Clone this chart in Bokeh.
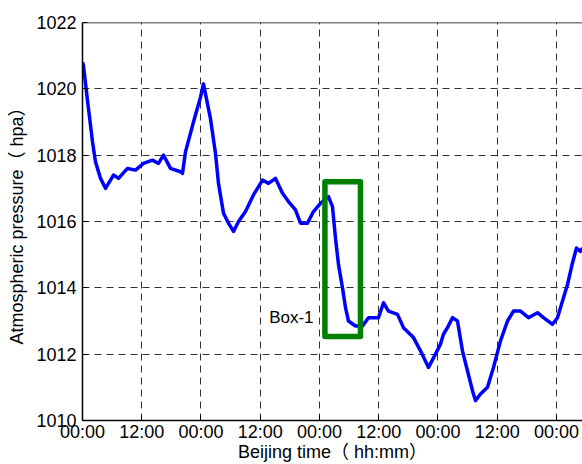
from bokeh.plotting import figure
from bokeh.models import FixedTicker, Span, Label
from bokeh.embed import file_html
from bokeh.resources import INLINE

# time in hours since start, pressure in hPa
hours = [0.0, 0.2, 1.01, 2.03, 2.63, 3.65, 4.66, 6.28, 7.29, 9.11, 10.73, 12.35,
         14.18, 15.39, 16.41, 17.82, 19.85, 20.25, 20.86, 22.48, 23.9, 24.5,
         25.92, 26.94, 27.54, 28.56, 29.57, 30.58, 31.6, 33.01, 34.63, 36.46,
         37.67, 39.09, 40.51, 41.72, 43.14, 44.15, 45.57, 46.78, 48.2, 48.61,
         49.82, 50.63, 51.24, 51.85, 52.66, 53.27, 53.87, 55.29, 56.71, 57.92,
         59.95, 60.96, 61.97, 63.8, 65.01, 67.04, 68.46, 70.08, 71.49, 72.5,
         73.11, 73.92, 74.94, 75.95, 76.96, 77.97, 78.99, 79.59, 80.61, 82.03,
         83.24, 84.66, 86.08, 87.29, 88.71, 90.33, 92.15, 93.37, 95.19, 96.2,
         97.22, 98.23, 99.24, 100.05, 100.86, 101.27]
pressure = [1020.8, 1020.7, 1019.65, 1018.4, 1017.8, 1017.3, 1017.0, 1017.4, 1017.3,
            1017.6, 1017.55, 1017.75, 1017.85, 1017.75, 1018.0, 1017.6, 1017.5,
            1017.45, 1018.1, 1019.0, 1019.75, 1020.15, 1019.1, 1018.05, 1017.15,
            1016.25, 1015.95, 1015.7, 1016.0, 1016.3, 1016.8, 1017.25, 1017.15,
            1017.3, 1016.85, 1016.6, 1016.35, 1015.95, 1015.95, 1016.3, 1016.55,
            1016.6, 1016.75, 1016.45, 1015.5, 1014.7, 1014.0, 1013.4, 1013.0,
            1012.85, 1012.85, 1013.1, 1013.1, 1013.55, 1013.3, 1013.2, 1012.8,
            1012.5, 1012.1, 1011.6, 1012.0, 1012.3, 1012.6, 1012.8, 1013.1,
            1013.0, 1012.1, 1011.5, 1010.9, 1010.6, 1010.8, 1011.0, 1011.6,
            1012.4, 1013.0, 1013.3, 1013.3, 1013.1, 1013.25, 1013.1, 1012.9,
            1013.1, 1013.6, 1014.1, 1014.75, 1015.2, 1015.1, 1015.2]

x_ticks = [0, 12, 24, 36, 48, 60, 72, 84, 96]
x_tick_labels = ["00:00", "12:00", "00:00", "12:00", "00:00", "12:00", "00:00", "12:00", "00:00"]
y_ticks = [1010, 1012, 1014, 1016, 1018, 1020, 1022]

box_left, box_right = 49.1, 56.3
box_bottom, box_top = 1012.53, 1017.2
box_label = "Box-1"
x_title = "Beijing time（ hh:mm）"
y_title = "Atmospheric pressure（ hpa）"

FONT = "Liberation Sans, Noto Sans CJK TC"

p = figure(width=582, height=464, x_range=(0, 101.27), y_range=(1010, 1022),
           output_backend="svg", toolbar_location=None,
           min_border_left=82, min_border_right=0, min_border_top=22, min_border_bottom=44)
p.outline_line_color = None
p.background_fill_color = "white"
p.border_fill_color = "white"

for g in (p.xgrid, p.ygrid):
    g.grid_line_color = "#333333"
    g.grid_line_dash = "7 5"
    g.grid_line_width = 1

p.xaxis.ticker = FixedTicker(ticks=x_ticks)
p.xaxis.major_label_overrides = {t: l for t, l in zip(x_ticks, x_tick_labels)}
p.yaxis.ticker = FixedTicker(ticks=y_ticks)
p.xgrid.ticker = FixedTicker(ticks=x_ticks)
p.ygrid.ticker = FixedTicker(ticks=y_ticks)

for ax in (p.xaxis, p.yaxis):
    ax.axis_line_color = "black"
    ax.axis_line_width = 1.5
    ax.major_tick_in = 5
    ax.major_tick_out = 0
    ax.major_tick_line_color = "black"
    ax.minor_tick_line_color = None
    ax.major_label_text_font = FONT
    ax.major_label_text_font_size = "18px"
    ax.major_label_text_color = "black"
    ax.axis_label_text_font = FONT
    ax.axis_label_text_font_size = "18px"
    ax.axis_label_text_font_style = "normal"
    ax.axis_label_text_color = "black"

p.xaxis.axis_label = x_title
p.yaxis.axis_label = y_title
p.xaxis.major_label_standoff = 1
p.xaxis.axis_label_standoff = -3
p.yaxis.major_label_standoff = 6
p.yaxis.axis_label_standoff = 6

# top border
p.add_layout(Span(location=1022, dimension="width", line_color="black", line_width=1.5))

p.line(hours, pressure, line_color="#0000FF", line_width=3.5, line_join="round")

p.quad(left=[box_left], right=[box_right], bottom=[box_bottom], top=[box_top],
       fill_color=None, line_color="#008000", line_width=5.5, line_join="round")

p.add_layout(Label(x=box_left - 2.3, y=1013.1, text=box_label, text_align="right",
                   text_baseline="middle", text_font=FONT, text_font_size="17px",
                   text_color="black"))

open("out.html", "w").write(file_html(p, INLINE))
